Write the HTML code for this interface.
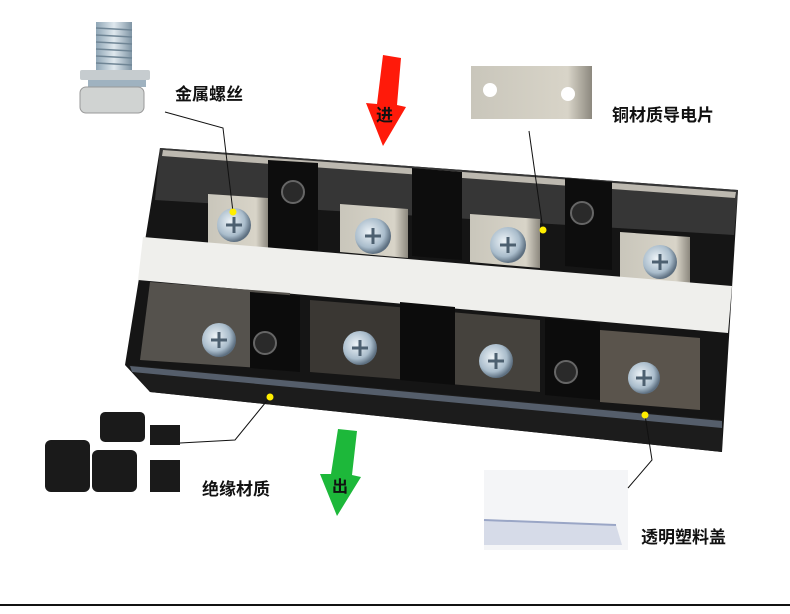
<!DOCTYPE html>
<html><head><meta charset="utf-8"><style>
html,body{margin:0;padding:0;background:#fff;}
svg{display:block}
text{font-family:"Liberation Sans","Noto Sans CJK SC",sans-serif;font-weight:bold;fill:#111}
</style></head><body>
<svg width="790" height="614" viewBox="0 0 790 614" xmlns="http://www.w3.org/2000/svg">
<defs>
<radialGradient id="scr" cx="40%" cy="40%" r="60%"><stop offset="0" stop-color="#eef4f8"/><stop offset="0.7" stop-color="#a9bccb"/><stop offset="1" stop-color="#5d6f80"/></radialGradient>
<linearGradient id="plate" x1="0" x2="1"><stop offset="0" stop-color="#c9c6bb"/><stop offset="0.8" stop-color="#d8d4c8"/><stop offset="1" stop-color="#8c887e"/></linearGradient>
<linearGradient id="bolt" x1="0" x2="1"><stop offset="0" stop-color="#8fa6b6"/><stop offset="0.5" stop-color="#dfe8ee"/><stop offset="1" stop-color="#7f95a5"/></linearGradient>
</defs>
<rect x="96" y="22" width="36" height="50" fill="url(#bolt)"/>
<g stroke="#6f8595" stroke-width="1.5">
<line x1="96" y1="28" x2="132" y2="30"/><line x1="96" y1="35" x2="132" y2="37"/><line x1="96" y1="42" x2="132" y2="44"/><line x1="96" y1="49" x2="132" y2="51"/><line x1="96" y1="56" x2="132" y2="58"/><line x1="96" y1="63" x2="132" y2="65"/></g>
<rect x="80" y="70" width="70" height="10" rx="2" fill="#c6cccf"/>
<rect x="88" y="80" width="58" height="7" fill="#9fb2c0"/>
<rect x="80" y="87" width="64" height="26" rx="6" fill="#d0d3d2" stroke="#999" stroke-width="1"/>
<rect x="471" y="66" width="121" height="53" fill="url(#plate)"/>
<circle cx="490" cy="90" r="7" fill="#fff"/><circle cx="568" cy="94" r="7" fill="#fff"/>
<polygon points="383,55 401,58 397,105 406,107 383,146 366,103 377,104" fill="#ff1a0a"/>
<text x="376" y="121" font-size="17">进</text>
<polygon points="160,148 738,190 722,452 150,392 125,365" fill="#151515"/>
<polygon points="160,148 738,190 734,235 155,200" fill="#3a3a3a" opacity="0.9"/>
<polygon points="163,150 736,192 735,198 162,156" fill="#bdb9b0"/>
<polygon points="208,194 268,198 268,248 208,244" fill="url(#plate)"/>
<polygon points="340,204 408,209 408,258 340,252" fill="url(#plate)"/>
<polygon points="470,214 540,219 540,268 470,262" fill="url(#plate)"/>
<polygon points="620,232 690,237 690,287 620,282" fill="url(#plate)"/>
<polygon points="268,160 318,163 318,252 268,248" fill="#0d0d0d"/>
<polygon points="412,168 462,172 462,260 412,256" fill="#0d0d0d"/>
<polygon points="565,178 612,182 612,270 565,266" fill="#0d0d0d"/>
<circle cx="293" cy="192" r="11" fill="#2a2a2a" stroke="#666" stroke-width="2"/>
<circle cx="582" cy="213" r="11" fill="#2a2a2a" stroke="#666" stroke-width="2"/>
<polygon points="143,237 732,286 728,333 138,280" fill="#efefec"/>
<polygon points="150,282 290,293 290,370 140,360" fill="#55524d"/>
<polygon points="310,300 410,308 410,380 310,372" fill="#3a3733"/>
<polygon points="450,312 540,320 540,392 450,384" fill="#45423d"/>
<polygon points="600,330 700,338 700,410 600,402" fill="#5a544c"/>
<polygon points="250,292 300,296 300,372 250,368" fill="#0c0c0c"/>
<polygon points="400,302 455,307 455,385 400,380" fill="#0c0c0c"/>
<polygon points="545,318 600,323 600,400 545,395" fill="#0c0c0c"/>
<circle cx="265" cy="343" r="11" fill="#2a2a2a" stroke="#666" stroke-width="2"/>
<circle cx="566" cy="372" r="11" fill="#2a2a2a" stroke="#666" stroke-width="2"/>
<polygon points="128,365 722,420 722,452 150,392" fill="#1c1c1c"/>
<polygon points="130,366 722,421 722,428 132,372" fill="#7c8aa0" opacity="0.6"/>
<g fill="url(#scr)">
<circle cx="234" cy="225" r="17"/><circle cx="373" cy="236" r="18"/><circle cx="508" cy="245" r="18"/><circle cx="660" cy="262" r="17"/>
<circle cx="219" cy="340" r="17"/><circle cx="360" cy="348" r="17"/><circle cx="496" cy="361" r="17"/><circle cx="644" cy="378" r="16"/>
</g>
<g stroke="#4d6070" stroke-width="3">
<path d="M226 225h16M234 217v16M365 236h16M373 228v16M500 245h16M508 237v16M652 262h16M660 254v16M211 340h16M219 332v16M352 348h16M360 340v16M488 361h16M496 353v16M636 378h16M644 370v16"/></g>
<rect x="45" y="415" width="135" height="77" fill="#fff"/>
<rect x="45" y="440" width="45" height="52" rx="6" fill="#1a1a1a"/>
<rect x="100" y="412" width="45" height="30" rx="5" fill="#1a1a1a"/>
<rect x="92" y="450" width="45" height="42" rx="6" fill="#1a1a1a"/>
<rect x="150" y="425" width="30" height="20" fill="#1a1a1a"/>
<rect x="150" y="460" width="30" height="32" fill="#1a1a1a"/>
<polygon points="338,429 357,431 352,475 361,477 337,516 320,474 331,474" fill="#1db83a"/>
<text x="332" y="492" font-size="16">出</text>
<rect x="484" y="470" width="144" height="80" fill="#f4f5f7"/>
<polygon points="484,520 616,525 622,545 484,545" fill="#d6dbe8"/>
<line x1="484" y1="520" x2="616" y2="525" stroke="#9aa6c6" stroke-width="2"/>
<g stroke="#111" stroke-width="1" fill="none">
<polyline points="165,112 223,128 233,212"/>
<polyline points="529,131 543,230"/>
<polyline points="270,397 235,440 180,443"/>
<polyline points="645,415 652,460 628,488"/>
</g>
<g fill="#ffee00"><circle cx="233" cy="212" r="3.5"/><circle cx="543" cy="230" r="3.5"/><circle cx="270" cy="397" r="3.5"/><circle cx="645" cy="415" r="3.5"/></g>
<text x="175" y="100" font-size="17">金属螺丝</text>
<text x="612" y="121" font-size="17">铜材质导电片</text>
<text x="202" y="495" font-size="17">绝缘材质</text>
<text x="641" y="543" font-size="17">透明塑料盖</text>
<rect x="0" y="604" width="790" height="2" fill="#111"/>
</svg>
</body></html>
